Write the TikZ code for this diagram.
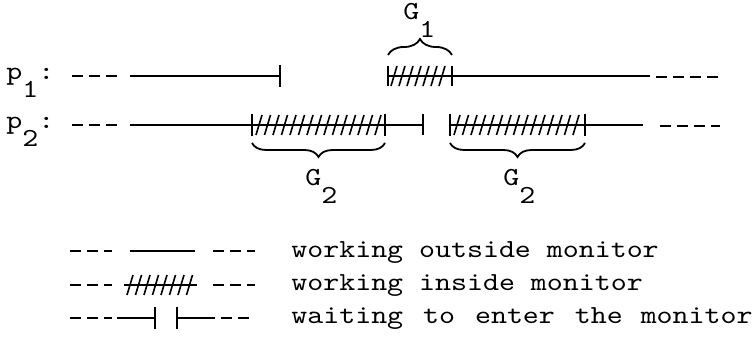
\documentclass[tikz,border=0pt]{standalone}
\usepackage{fontspec}
\setmonofont[FakeStretch=1.17]{lmmono10-regular.otf}
\usetikzlibrary{decorations.pathreplacing}
\newcommand{\lowidx}[1]{\raisebox{-9pt}{#1}}

\begin{document}
\begin{tikzpicture}[x=0.5pt, y=-0.5pt]
    \tikzset{
        runline/.style={line width=0.9pt, black},
        dashline/.style={line width=0.9pt, black, dash pattern=on 5.5pt off 3pt},
        hatchline/.style={line width=0.8pt, black},
        tickline/.style={line width=0.9pt, black},
        bracestyle/.style={line width=0.9pt, decorate, decoration={brace, amplitude=#1}},
        tttext/.style={font=\ttfamily\fontsize{13}{15}\selectfont, inner sep=0pt, anchor=base west}
    }
    \useasboundingbox (0,0) rectangle (752,363);

    % --- 1. TIME LINES ---
    \node[tttext] (p1lbl) at (6,80) {p\lowidx{1}:};
    \node[tttext] (p2lbl) at (6,129) {p\lowidx{2}:};

    % p1
    \draw[dashline] (72,76) -- (118,76);
    \draw[runline] (130,76) -- (280,76);
    \draw[tickline] (280,65) -- (280,87);
    \draw[runline] (388,76) -- (650,76);
    \draw[tickline] (388,66) -- (388,86);
    \draw[tickline] (452,66) -- (452,86);
    \foreach \x in {394,402,...,446} {
        \draw[hatchline] (\x-3,86) -- (\x+3,66);
    }
    \draw[dashline] (656,77) -- (720,77);

    % p2
    \draw[dashline] (72,125) -- (118,125);
    \draw[runline] (130,125) -- (423,125);
    \draw[tickline] (252,114) -- (252,136);
    \draw[tickline] (385,114) -- (385,136);
    \foreach \x in {259,267.5,...,380} {
        \draw[hatchline] (\x-3,135) -- (\x+3,115);
    }
    \draw[tickline] (423,114) -- (423,135);
    \draw[runline] (450,125) -- (643,125);
    \draw[tickline] (450,114) -- (450,136);
    \draw[tickline] (585,114) -- (585,136);
    \foreach \x in {457,465.5,...,580} {
        \draw[hatchline] (\x-3,135) -- (\x+3,115);
    }
    \draw[dashline] (660,126) -- (720,126);

    % Accolades
    \draw[bracestyle=8pt] (388,55) -- (452,55);
    \node[tttext] (g1) at (403,20) {G\lowidx{1}};
    \draw[bracestyle=7pt] (385,143) -- (252,143);
    \node[tttext] (g2a) at (305,186) {G\lowidx{2}};
    \draw[bracestyle=7pt] (585,143) -- (450,143);
    \node[tttext] (g2b) at (503,186) {G\lowidx{2}};

    % --- 2. LEGENDE ---
    \draw[dashline] (70,251) -- (112,251);
    \draw[runline] (130,251) -- (195,251);
    \draw[dashline] (213,251) -- (255,251);
    \node[tttext] (leg1) at (291,258) {working outside monitor};

    \draw[dashline] (70,285) -- (112,285);
    \draw[runline] (124,285) -- (197,285);
    \foreach \x in {130,138.5,...,190} {
        \draw[hatchline] (\x-3,295) -- (\x+3,275);
    }
    \draw[dashline] (213,285) -- (255,285);
    \node[tttext] (leg2) at (291,291) {working inside monitor};

    \draw[dashline] (70,318) -- (112,318);
    \draw[runline] (117,318) -- (155,318);
    \draw[tickline] (155,307) -- (155,329);
    \draw[tickline] (177,307) -- (177,329);
    \draw[runline] (177,318) -- (215,318);
    \draw[dashline] (221,318) -- (250,318);
    \node[tttext] (leg3) at (291,324) {waiting\hspace{2pt} to\hspace{2pt} enter\hspace{2pt} the\hspace{1pt} monitor};

\end{tikzpicture}
\end{document}
